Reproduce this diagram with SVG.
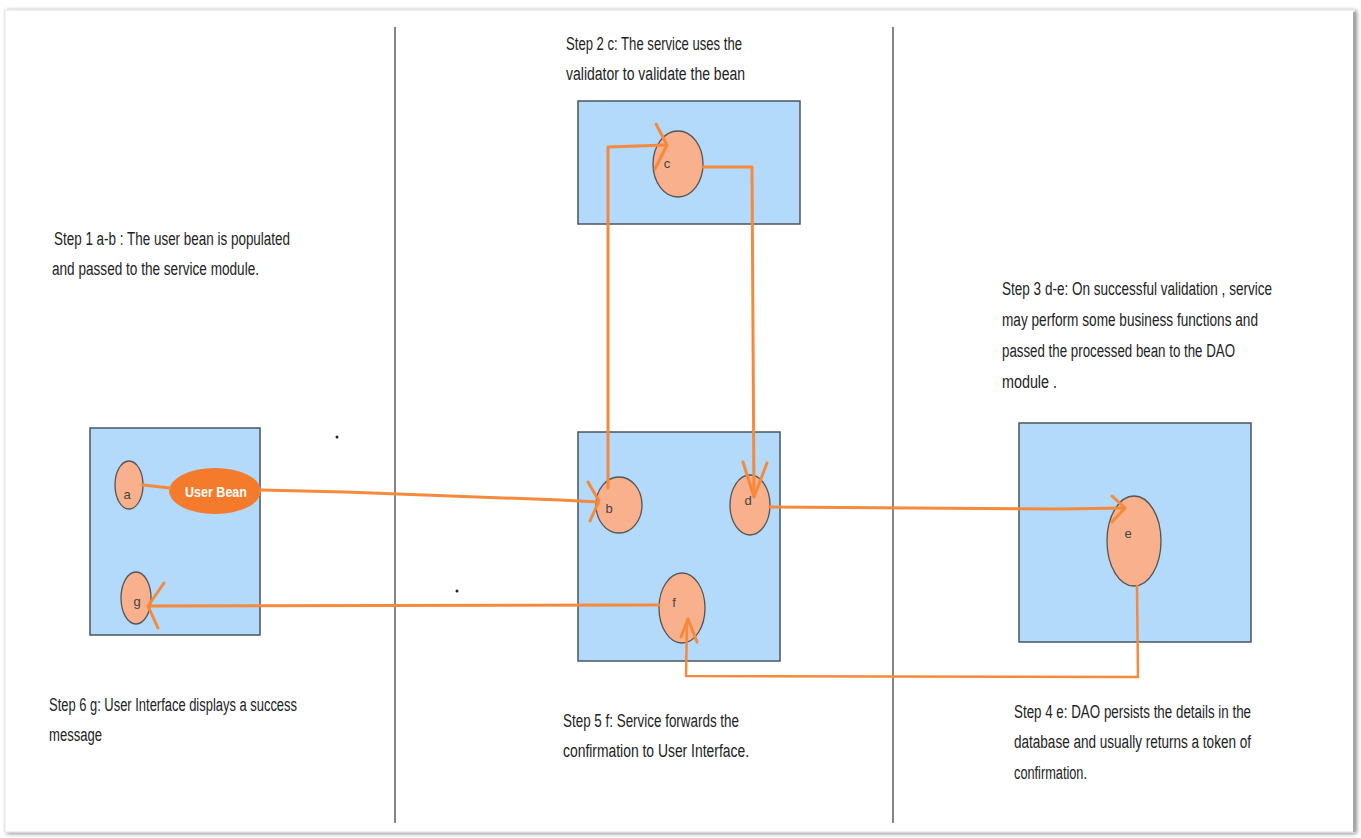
<svg xmlns="http://www.w3.org/2000/svg" width="1361" height="838" viewBox="0 0 1361 838">
<defs>
<filter id="sh" x="-2%" y="-2%" width="104%" height="104%">
<feGaussianBlur in="SourceAlpha" stdDeviation="2"/>
<feOffset dx="2" dy="1"/>
<feComponentTransfer><feFuncA type="linear" slope="0.5"/></feComponentTransfer>
<feMerge><feMergeNode/><feMergeNode in="SourceGraphic"/></feMerge>
</filter>
</defs>
<style>
.box{fill:#b3d9fb;stroke:#4a5560;stroke-width:1.5}
.node{fill:#f9b08c;stroke:#555;stroke-width:1.3}
.lbl{font-family:"Liberation Sans",Arial,sans-serif;font-size:13px;fill:#444;text-anchor:middle}
.txt{font-family:"Liberation Sans",Arial,sans-serif;font-size:18px;fill:#222}
.c{fill:none;stroke:#f58a3c;stroke-width:3;stroke-linejoin:round;stroke-linecap:round}
.sep{stroke:#333;stroke-width:1.2}
</style>
<rect width="1361" height="838" fill="#ffffff"/>
<rect x="5" y="10" width="1349" height="822" fill="#ffffff" stroke="#e2e2e2" stroke-width="1" filter="url(#sh)"/>
<line x1="1354" y1="12" x2="1354" y2="832" stroke="#a8a8a8" stroke-width="2"/>
<g id="separators">
<line class="sep" x1="395" y1="27" x2="395" y2="823"/>
<line class="sep" x1="893" y1="27" x2="893" y2="823"/>
</g>
<g id="ui-box"><rect class="box" x="90" y="428" width="170" height="207"/></g>
<g id="validator-box"><rect class="box" x="578" y="101" width="222" height="123"/></g>
<g id="service-box"><rect class="box" x="578" y="432" width="202" height="229"/></g>
<g id="dao-box"><rect class="box" x="1019" y="423" width="232" height="219"/></g>
<g id="node-a"><ellipse class="node" cx="129" cy="485" rx="14" ry="24"/><text class="lbl" x="127" y="499">a</text></g>
<g id="node-userbean"><ellipse cx="215" cy="491" rx="46" ry="23" fill="#f47b2b"/><text x="216" y="497" font-family="'Liberation Sans',Arial,sans-serif" font-size="15" font-weight="bold" fill="#ffffff" text-anchor="middle" textLength="62" lengthAdjust="spacingAndGlyphs">User Bean</text></g>
<g id="node-g"><ellipse class="node" cx="136" cy="598" rx="15" ry="26"/><text class="lbl" x="137" y="606">g</text></g>
<g id="node-c"><ellipse class="node" cx="678" cy="164" rx="25" ry="33"/><text class="lbl" x="667" y="168">c</text></g>
<g id="node-b"><ellipse class="node" cx="619" cy="505" rx="23" ry="28"/><text class="lbl" x="609" y="513">b</text></g>
<g id="node-d"><ellipse class="node" cx="750" cy="505" rx="20" ry="30"/><text class="lbl" x="748" y="505">d</text></g>
<g id="node-f"><ellipse class="node" cx="682" cy="608" rx="23" ry="35"/><text class="lbl" x="674" y="607">f</text></g>
<g id="node-e"><ellipse class="node" cx="1134" cy="541" rx="27" ry="45"/><text class="lbl" x="1128" y="538">e</text></g>
<g id="connectors">
<polyline class="c" points="143,485 170,488"/>
<polyline class="c" points="261,490 345,492 560,500 598,502"/>
<polyline class="c" points="588,482 599,501 590,521"/>
<polyline class="c" points="608,488 608,147 666,145"/>
<polyline class="c" points="656,124 667,145 655,169"/>
<polyline class="c" points="703,167 752,167 754,497"/>
<polyline class="c" points="743,462 754,497 767,463"/>
<polyline class="c" points="770,507 1060,509 1124,508"/>
<polyline class="c" points="1112,496 1125,508 1112,522"/>
<polyline class="c" style="stroke-width:2.5" points="1137,586 1138,677 686,676 687,620"/>
<polyline class="c" points="681,637 688,619 697,642"/>
<polyline class="c" points="659,605 148,606"/>
<polyline class="c" points="164,583 148,606 158,628"/>
</g>
<circle cx="337" cy="437" r="1.5" fill="#222"/>
<circle cx="457" cy="591" r="1.5" fill="#222"/>
<g id="labels">
<text class="txt" x="566" y="50" textLength="176" lengthAdjust="spacingAndGlyphs">Step 2 c: The service uses the</text>
<text class="txt" x="566" y="80" textLength="179" lengthAdjust="spacingAndGlyphs">validator to validate the bean</text>
<text class="txt" x="54" y="245" textLength="236" lengthAdjust="spacingAndGlyphs">Step 1 a-b : The user bean is populated</text>
<text class="txt" x="52" y="275" textLength="207" lengthAdjust="spacingAndGlyphs">and passed to the service module.</text>
<text class="txt" x="1002" y="295" textLength="270" lengthAdjust="spacingAndGlyphs">Step 3 d-e: On successful validation ,  service</text>
<text class="txt" x="1002" y="326" textLength="256" lengthAdjust="spacingAndGlyphs">may perform some business functions and</text>
<text class="txt" x="1002" y="357" textLength="233" lengthAdjust="spacingAndGlyphs">passed the processed bean to the DAO</text>
<text class="txt" x="1002" y="388" textLength="55" lengthAdjust="spacingAndGlyphs">module .</text>
<text class="txt" x="49" y="711" textLength="248" lengthAdjust="spacingAndGlyphs">Step 6 g: User Interface displays a success</text>
<text class="txt" x="49" y="741" textLength="53" lengthAdjust="spacingAndGlyphs">message</text>
<text class="txt" x="563" y="727" textLength="176" lengthAdjust="spacingAndGlyphs">Step 5 f: Service forwards the</text>
<text class="txt" x="563" y="757" textLength="186" lengthAdjust="spacingAndGlyphs">confirmation to User Interface.</text>
<text class="txt" x="1014" y="718" textLength="237" lengthAdjust="spacingAndGlyphs">Step 4 e: DAO persists the details in the</text>
<text class="txt" x="1014" y="748" textLength="237" lengthAdjust="spacingAndGlyphs">database and usually returns a token of</text>
<text class="txt" x="1014" y="779" textLength="73" lengthAdjust="spacingAndGlyphs">confirmation.</text>
</g>
</svg>
